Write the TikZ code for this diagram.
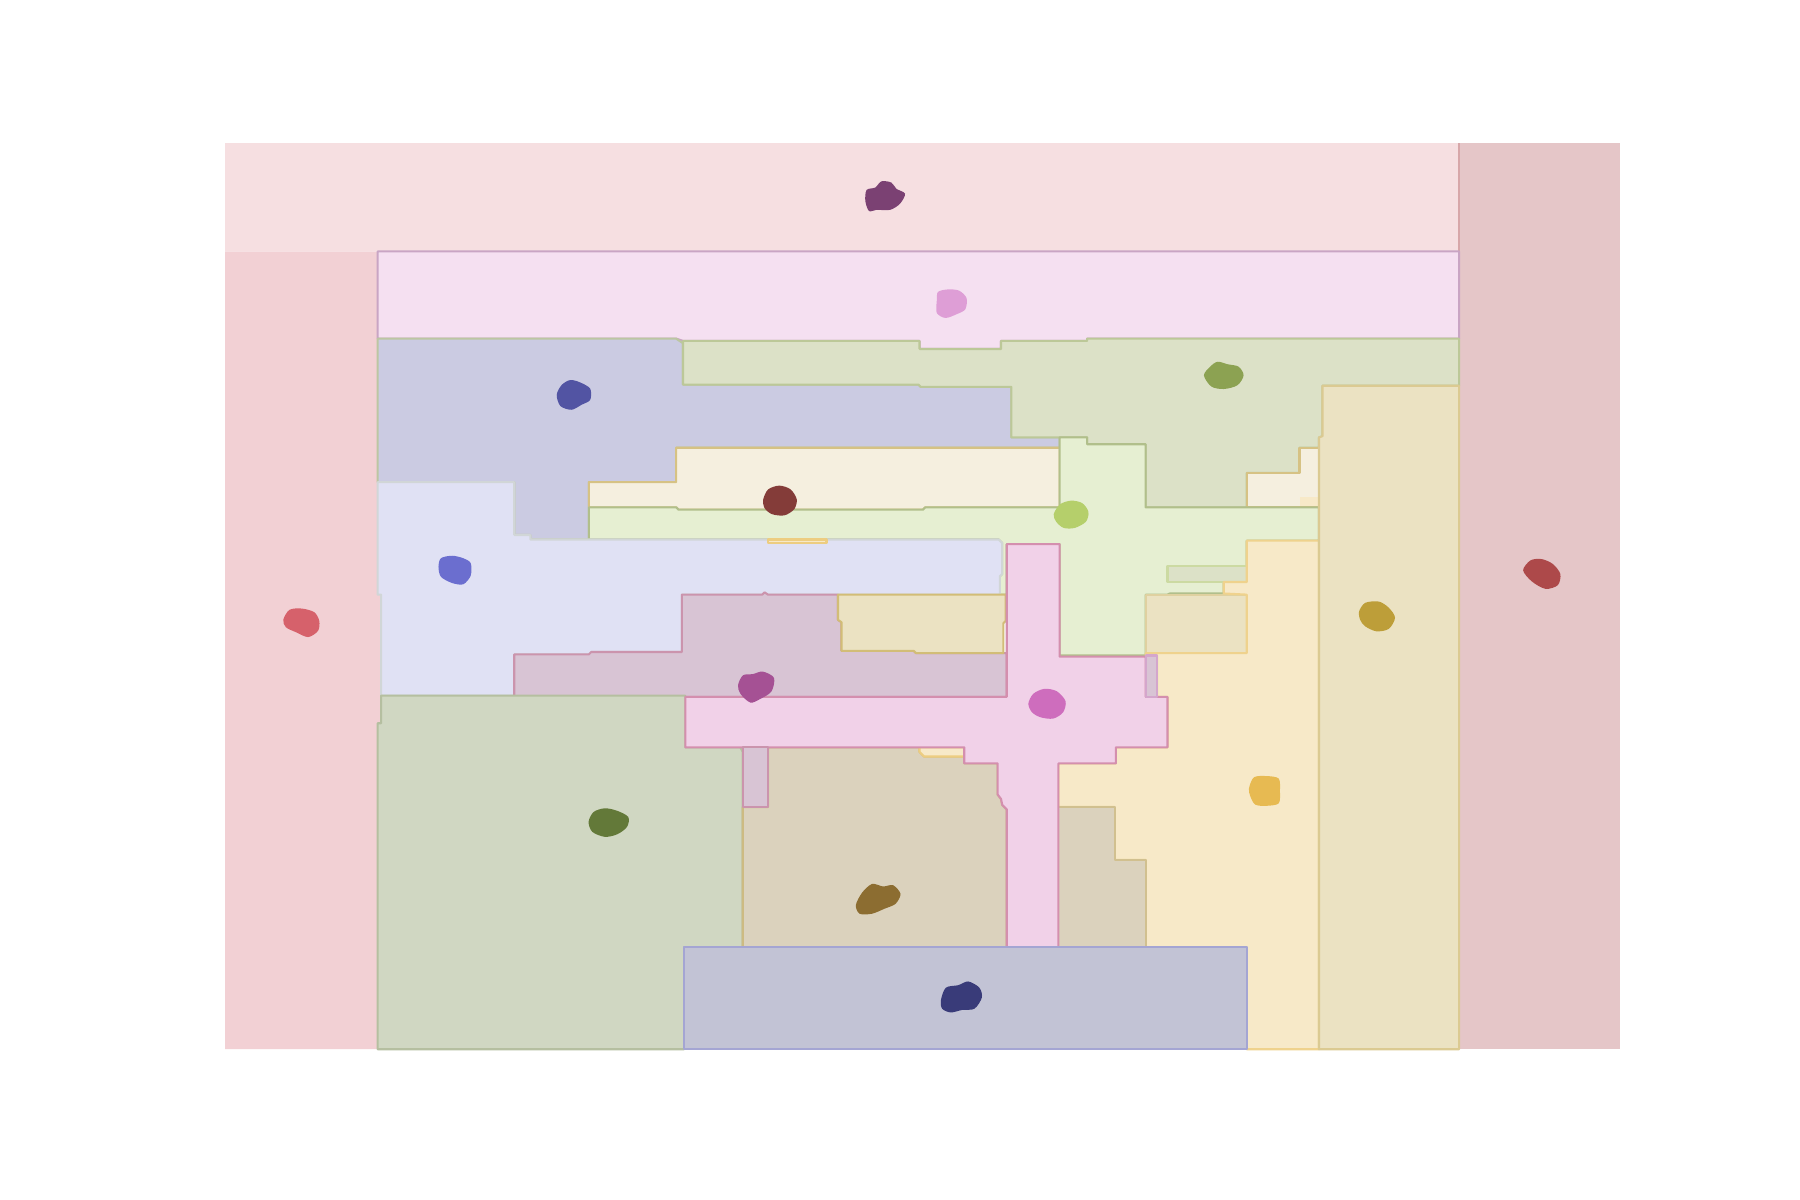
\documentclass[tikz,border=0pt]{standalone}
\usepackage{tikz}
\usepackage{xcolor}

\definecolor{topband}{HTML}{F6DFE1}
\definecolor{leftband}{HTML}{F2D0D4}
\definecolor{rightband}{HTML}{E5C6C8}
\definecolor{pinkstrip}{HTML}{F5E0F1}
\definecolor{periwinkle}{HTML}{CBCBE2}
\definecolor{olivezone}{HTML}{DCE1C7}
\definecolor{creamzone}{HTML}{F5EFDF}
\definecolor{limezone}{HTML}{E6EFD2}
\definecolor{lavender}{HTML}{E0E1F4}
\definecolor{mauvezone}{HTML}{D8C4D4}
\definecolor{tanzone}{HTML}{EBE2C2}
\definecolor{crosspink}{HTML}{F1D1E8}
\definecolor{sagezone}{HTML}{D0D7C2}
\definecolor{taupezone}{HTML}{DBD2BD}
\definecolor{paleyellow}{HTML}{F7E9C8}
\definecolor{slatezone}{HTML}{C2C3D5}
% spot colours
\definecolor{sTop}{HTML}{7B4173}
\definecolor{sLeft}{HTML}{D6616B}
\definecolor{sRight}{HTML}{AD494A}
\definecolor{sPink}{HTML}{DE9ED6}
\definecolor{sPeri}{HTML}{5254A3}
\definecolor{sOlive}{HTML}{8CA252}
\definecolor{sCream}{HTML}{843C39}
\definecolor{sLime}{HTML}{B5CF6B}
\definecolor{sLav}{HTML}{6B6ECF}
\definecolor{sMauve}{HTML}{A55194}
\definecolor{sTan}{HTML}{BD9E39}
\definecolor{sCross}{HTML}{CE6DBD}
\definecolor{sSage}{HTML}{637939}
\definecolor{sTaupe}{HTML}{8C6D31}
\definecolor{sYellow}{HTML}{E7BA52}
\definecolor{sSlate}{HTML}{393B79}

\begin{document}
\begin{tikzpicture}[x=0.01148cm, y=-0.01148cm,
  zone/.style={line width=0.6pt, line join=round},
  spot/.style={fill=#1, scale=1.08}]
  \useasboundingbox (0,0) rectangle (1568,1045);
  \fill[white] (0,0) rectangle (1568,1045);

  % outer bands
  \fill[topband] (196,125) rectangle (1271,219);
  \fill[rightband] (1271,125) rectangle (1411,914);
  \draw[zone, draw=sRight!25!rightband] (1271,125) -- (1271,914);
  \fill[leftband] (196,219) -- (329,219) -- (329,518) -- (332,518) -- (332,630) -- (329,630) -- (329,914) -- (196,914) -- cycle;

  % upper zones
  \filldraw[zone, fill=pinkstrip, draw=sPink!80!black!70] (329,219) -- (1271,219) -- (1271,295) -- (947,295) -- (947,297) -- (872,297) -- (872,304) -- (801,304) -- (801,297) -- (595,297) -- (589,295) -- (329,295) -- cycle;
  \filldraw[zone, fill=periwinkle, draw=olivezone!55!sOlive!80!periwinkle] (329,295) -- (589,295) -- (595,299) -- (595,335) -- (800,335) -- (802,337) -- (881,337) -- (881,381) -- (923,381) -- (923,390) -- (589,390) -- (589,420) -- (513,420) -- (513,470) -- (462,470) -- (462,466) -- (448,466) -- (448,420) -- (329,420) -- cycle;
  \filldraw[zone, fill=olivezone, draw=olivezone!60!sOlive] (595,297) -- (801,297) -- (801,304) -- (872,304) -- (872,297) -- (947,297) -- (947,295) -- (1271,295) -- (1271,336) -- (1152,336) -- (1152,380) -- (1149,381) -- (1149,390) -- (1132,390) -- (1132,412) -- (1086,412) -- (1086,442) -- (998,442) -- (998,387) -- (947,387) -- (947,381) -- (881,381) -- (881,337) -- (802,337) -- (800,335) -- (595,335) -- cycle;
  \filldraw[zone, fill=creamzone, draw=sTan!55!creamzone] (589,390) -- (923,390) -- (923,442) -- (806,442) -- (804,444) -- (591,444) -- (589,442) -- (513,442) -- (513,420) -- (589,420) -- cycle;
  \filldraw[zone, fill=creamzone, draw=sTan!55!creamzone] (1086,412) -- (1132,412) -- (1132,390) -- (1149,390) -- (1149,442) -- (1086,442) -- cycle;
  \fill[paleyellow] (1132,433) rectangle (1148,441);
  \filldraw[zone, fill=limezone, draw=sLime!45!limezone!85!black] (923,381) -- (947,381) -- (947,387) -- (998,387) -- (998,442) -- (1149,442) -- (1149,471) -- (1086,471) -- (1086,507) -- (1066,507) -- (1066,517) -- (1019,517) -- (1017,518) -- (998,518) -- (998,571) -- (923,571) -- (923,474) -- (877,474) -- (877,518) -- (871,518) -- (871,502) -- (873,500) -- (873,473) -- (870,470) -- (513,470) -- (513,442) -- (589,442) -- (591,444) -- (804,444) -- (806,442) -- (923,442) -- cycle;
  \filldraw[zone, fill=olivezone, draw=sLime!40!olivezone] (1017,493) rectangle (1086,507);
  \filldraw[zone, fill=lavender, draw=lavender!70!sOlive!60!lavender] (329,420) -- (448,420) -- (448,466) -- (462,466) -- (462,470) -- (870,470) -- (873,473) -- (873,500) -- (871,502) -- (871,518) -- (594,518) -- (594,568) -- (515,568) -- (513,570) -- (448,570) -- (448,606) -- (332,606) -- (332,518) -- (329,518) -- cycle;
  \filldraw[zone, fill=paleyellow, draw=sYellow!60!paleyellow] (669,470) rectangle (720,473);

  % middle zones
  \filldraw[zone, fill=mauvezone, draw=sCross!45!sRight!45!mauvezone] (594,518) -- (664,518) -- (666,516) -- (669,518) -- (730,518) -- (730,540) -- (733,542) -- (733,567) -- (796,567) -- (798,569) -- (877,569) -- (877,607) -- (448,607) -- (448,570) -- (513,570) -- (515,568) -- (594,568) -- cycle;
  \filldraw[zone, fill=tanzone, draw=sTan!55!tanzone] (730,518) -- (876,518) -- (876,541) -- (874,543) -- (874,569) -- (798,569) -- (796,567) -- (733,567) -- (733,542) -- (730,540) -- cycle;
  \filldraw[zone, fill=tanzone, draw=sTan!25!tanzone] (998,518) rectangle (1086,569);
  \filldraw[zone, fill=paleyellow, draw=sYellow!50!paleyellow] (1086,471) -- (1149,471) -- (1149,914) -- (1086,914) -- (1086,825) -- (998,825) -- (998,749) -- (971,749) -- (971,703) -- (922,703) -- (922,665) -- (972,665) -- (972,651) -- (1017,651) -- (1017,607) -- (1008,607) -- (1008,571) -- (998,571) -- (998,569) -- (1086,569) -- (1086,518) -- (1066,517) -- (1066,507) -- (1086,507) -- cycle;
  \filldraw[zone, fill=tanzone, draw=sTan!35!tanzone] (1152,336) -- (1271,336) -- (1271,914) -- (1149,914) -- (1149,381) -- (1152,380) -- cycle;

  % lower zones
  \filldraw[zone, fill=sagezone, draw=sSage!25!sagezone] (332,606) -- (597,606) -- (597,651) -- (645,651) -- (647,655) -- (647,825) -- (596,825) -- (596,914) -- (329,914) -- (329,630) -- (332,630) -- cycle;
  \filldraw[zone, fill=taupezone, draw=sTan!45!taupezone] (669,651) -- (801,651) -- (801,655) -- (805,659) -- (840,659) -- (840,665) -- (869,665) -- (869,692) -- (872,696) -- (873,701) -- (877,705) -- (877,825) -- (647,825) -- (647,703) -- (669,703) -- cycle;
  \filldraw[zone, fill=paleyellow, draw=sYellow!60!paleyellow] (801,651) -- (840,651) -- (840,659) -- (805,659) -- (801,655) -- cycle;
  \filldraw[zone, fill=taupezone, draw=sTan!35!taupezone] (922,703) -- (971,703) -- (971,749) -- (998,749) -- (998,825) -- (922,825) -- cycle;
  \filldraw[zone, fill=crosspink, draw=sCross!45!sRight!55!crosspink] (877,474) -- (923,474) -- (923,572) -- (998,572) -- (998,607) -- (1017,607) -- (1017,651) -- (972,651) -- (972,665) -- (922,665) -- (922,825) -- (877,825) -- (877,705) -- (873,701) -- (872,696) -- (869,692) -- (869,665) -- (840,665) -- (840,651) -- (597,651) -- (597,607) -- (877,607) -- cycle;
  \filldraw[zone, fill=mauvezone, draw=sCross!45!sRight!45!mauvezone] (647,651) rectangle (669,703);
  \filldraw[zone, fill=mauvezone, draw=sCross!35!mauvezone] (998,571) rectangle (1008,607);
  \filldraw[zone, fill=slatezone, draw=sLav!35!slatezone] (596,825) rectangle (1086,914);

  % spots
  \fill[shift={(770,172)}, spot=sTop] plot[smooth cycle] coordinates {(-15,3) (-14,-6) (-7,-8) (-2,-13) (6,-12) (10,-7) (17,-3) (13,5) (5,10) (-6,10) (-12,11)};
  \fill[shift={(829,264)}, spot=sPink] plot[smooth cycle] coordinates {(-12,-2) (-11,-9) (-3,-11) (6,-10) (12,-4) (11,5) (4,9) (-5,12) (-12,8)};
  \fill[shift={(499,344)}, spot=sPeri] plot[smooth cycle] coordinates {(-13,0) (-9,-8) (-2,-12) (6,-10) (14,-5) (14,4) (7,8) (-1,12) (-10,9)};
  \fill[shift={(1066,327)}, spot=sOlive] plot[smooth cycle] coordinates {(-16,0) (-11,-7) (-5,-11) (3,-9) (12,-7) (16,0) (11,8) (0,11) (-10,9)};
  \fill[shift={(680,436)}, spot=sCream] plot[smooth cycle] coordinates {(-14,-1) (-10,-9) (-1,-12) (8,-9) (13,-1) (11,7) (3,12) (-7,11) (-13,6)};
  \fill[shift={(933,448)}, spot=sLime] plot[smooth cycle] coordinates {(-14,0) (-9,-8) (0,-11) (9,-9) (14,-2) (12,6) (3,11) (-6,11) (-12,6)};
  \fill[shift={(396,496)}, spot=sLav] plot[smooth cycle] coordinates {(-13,-2) (-11,-9) (-2,-11) (7,-9) (13,-5) (13,5) (7,12) (-2,11) (-11,6)};
  \fill[shift={(263,542)}, spot=sLeft] plot[smooth cycle] coordinates {(-15,-2) (-10,-10) (0,-11) (10,-8) (14,-1) (13,7) (5,12) (-5,8) (-13,4)};
  \fill[shift={(1343,500)}, spot=sRight] plot[smooth cycle] coordinates {(-15,-3) (-9,-11) (0,-12) (9,-8) (15,0) (13,9) (3,12) (-8,6)};
  \fill[shift={(1199,537)}, spot=sTan] plot[smooth cycle] coordinates {(-14,-4) (-9,-11) (2,-12) (10,-7) (15,1) (10,10) (0,12) (-9,8) (-13,3)};
  \fill[shift={(658,598)}, spot=sMauve] plot[smooth cycle] coordinates {(-14,-1) (-10,-9) (-2,-10) (6,-12) (15,-7) (13,4) (4,10) (-4,13) (-12,6)};
  \fill[shift={(912,613)}, spot=sCross] plot[smooth cycle] coordinates {(-15,0) (-11,-8) (-2,-12) (8,-10) (15,-2) (13,7) (5,12) (-5,11) (-12,7)};
  \fill[shift={(1102,689)}, spot=sYellow] plot[smooth cycle] coordinates {(-13,-2) (-9,-11) (1,-12) (11,-10) (12,0) (11,10) (1,12) (-8,11) (-12,4)};
  \fill[shift={(530,716)}, spot=sSage] plot[smooth cycle] coordinates {(-16,0) (-12,-8) (-3,-11) (7,-9) (16,-4) (15,4) (7,10) (-3,12) (-13,8)};
  \fill[shift={(765,783)}, spot=sTaupe] plot[smooth cycle] coordinates {(-18,5) (-13,-5) (-5,-12) (4,-10) (12,-11) (18,-4) (14,4) (5,8) (-5,12) (-15,12)};
  \fill[shift={(838,869)}, spot=sSlate] plot[smooth cycle] coordinates {(-17,2) (-13,-8) (-3,-10) (5,-13) (14,-8) (16,0) (10,9) (0,10) (-9,12) (-16,9)};
\end{tikzpicture}
\end{document}
